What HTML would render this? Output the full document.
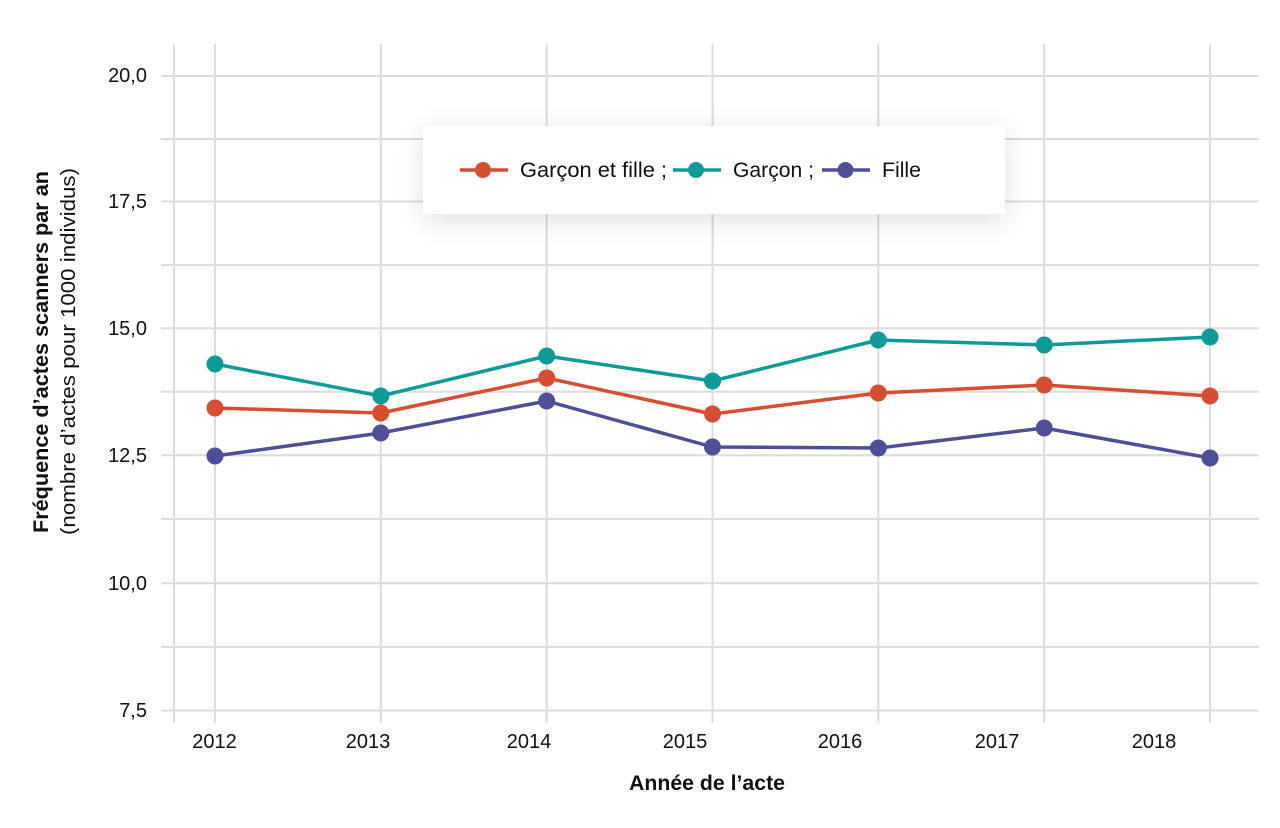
<!DOCTYPE html>
<html>
<head>
<meta charset="utf-8">
<style>
  html, body { margin:0; padding:0; background:#fff; }
  body { width:1280px; height:828px; position:relative; overflow:hidden; font-family:"Liberation Sans", sans-serif; }
  svg { position:absolute; left:0; top:0; }
  .legend { position:absolute; left:423px; top:126px; width:582px; height:88px; background:#fff;
            box-shadow: 0 6px 26px rgba(0,0,0,0.13); }
</style>
</head>
<body>
<svg width="1280" height="828" viewBox="0 0 1280 828" xmlns="http://www.w3.org/2000/svg">
  <g stroke="#dcdcdc" stroke-width="2" fill="none">
    <line x1="161" y1="76" x2="1259" y2="76"/>
    <line x1="161" y1="139" x2="1259" y2="139"/>
    <line x1="161" y1="201.5" x2="1259" y2="201.5"/>
    <line x1="161" y1="265" x2="1259" y2="265"/>
    <line x1="161" y1="328.3" x2="1259" y2="328.3"/>
    <line x1="161" y1="391.7" x2="1259" y2="391.7"/>
    <line x1="161" y1="455.3" x2="1259" y2="455.3"/>
    <line x1="161" y1="519" x2="1259" y2="519"/>
    <line x1="161" y1="583.3" x2="1259" y2="583.3"/>
    <line x1="161" y1="647" x2="1259" y2="647"/>
    <line x1="161" y1="710.5" x2="1259" y2="710.5"/>
    <line x1="174" y1="44" x2="174" y2="723"/>
    <line x1="215" y1="44" x2="215" y2="723"/>
    <line x1="380.8" y1="44" x2="380.8" y2="723"/>
    <line x1="546.7" y1="44" x2="546.7" y2="723"/>
    <line x1="712.5" y1="44" x2="712.5" y2="723"/>
    <line x1="878.3" y1="44" x2="878.3" y2="723"/>
    <line x1="1044.2" y1="44" x2="1044.2" y2="723"/>
    <line x1="1210" y1="44" x2="1210" y2="723"/>
  </g>

  <g font-family="Liberation Sans, sans-serif" font-size="20" fill="#111" text-anchor="end">
    <text x="147" y="82">20,0</text>
    <text x="147" y="208">17,5</text>
    <text x="147" y="335">15,0</text>
    <text x="147" y="462">12,5</text>
    <text x="147" y="590">10,0</text>
    <text x="147" y="717">7,5</text>
  </g>

  <g font-family="Liberation Sans, sans-serif" font-size="20" fill="#111" text-anchor="middle">
    <text x="214.5" y="748">2012</text>
    <text x="368" y="748">2013</text>
    <text x="529" y="748">2014</text>
    <text x="685" y="748">2015</text>
    <text x="840" y="748">2016</text>
    <text x="997" y="748">2017</text>
    <text x="1154" y="748">2018</text>
  </g>

  <text x="629" y="790" font-family="Liberation Sans, sans-serif" font-size="21" font-weight="bold" fill="#111" textLength="156" lengthAdjust="spacingAndGlyphs">Année de l’acte</text>

  <text transform="translate(48,533) rotate(-90)" font-family="Liberation Sans, sans-serif" font-size="21" font-weight="bold" fill="#111" textLength="362" lengthAdjust="spacingAndGlyphs">Fréquence d’actes scanners par an</text>
  <text transform="translate(75,535) rotate(-90)" font-family="Liberation Sans, sans-serif" font-size="20" fill="#111" textLength="367" lengthAdjust="spacingAndGlyphs">(nombre d’actes pour 1000 individus)</text>

  <g>
    <polyline fill="none" stroke="#0e9b97" stroke-width="3.5" stroke-linejoin="round"
      points="215,364 380.8,396 546.7,356 712.5,381 878.3,340 1044.2,345 1210,337"/>
    <g fill="#0e9b97">
      <circle cx="215" cy="364" r="8.5"/>
      <circle cx="380.8" cy="396" r="8.5"/>
      <circle cx="546.7" cy="356" r="8.5"/>
      <circle cx="712.5" cy="381" r="8.5"/>
      <circle cx="878.3" cy="340" r="8.5"/>
      <circle cx="1044.2" cy="345" r="8.5"/>
      <circle cx="1210" cy="337" r="8.5"/>
    </g>
  </g>
  <g>
    <polyline fill="none" stroke="#d64d31" stroke-width="3.5" stroke-linejoin="round"
      points="215,408 380.8,413 546.7,378 712.5,414 878.3,393 1044.2,385 1210,396"/>
    <g fill="#d64d31">
      <circle cx="215" cy="408" r="8.5"/>
      <circle cx="380.8" cy="413" r="8.5"/>
      <circle cx="546.7" cy="378" r="8.5"/>
      <circle cx="712.5" cy="414" r="8.5"/>
      <circle cx="878.3" cy="393" r="8.5"/>
      <circle cx="1044.2" cy="385" r="8.5"/>
      <circle cx="1210" cy="396" r="8.5"/>
    </g>
  </g>
  <g>
    <polyline fill="none" stroke="#4f4e99" stroke-width="3.5" stroke-linejoin="round"
      points="215,456 380.8,433 546.7,401 712.5,447 878.3,448 1044.2,428 1210,458"/>
    <g fill="#4f4e99">
      <circle cx="215" cy="456" r="8.5"/>
      <circle cx="380.8" cy="433" r="8.5"/>
      <circle cx="546.7" cy="401" r="8.5"/>
      <circle cx="712.5" cy="447" r="8.5"/>
      <circle cx="878.3" cy="448" r="8.5"/>
      <circle cx="1044.2" cy="428" r="8.5"/>
      <circle cx="1210" cy="458" r="8.5"/>
    </g>
  </g>
</svg>

<div class="legend"></div>

<svg width="1280" height="828" viewBox="0 0 1280 828" xmlns="http://www.w3.org/2000/svg">
  <g stroke-width="3.5">
    <line x1="460" y1="170" x2="508" y2="170" stroke="#d64d31"/>
    <circle cx="483" cy="170" r="8" fill="#d64d31" stroke="none"/>
    <line x1="673" y1="170" x2="721" y2="170" stroke="#0e9b97"/>
    <circle cx="696" cy="170" r="8" fill="#0e9b97" stroke="none"/>
    <line x1="822" y1="170" x2="870" y2="170" stroke="#4f4e99"/>
    <circle cx="845.5" cy="170" r="8" fill="#4f4e99" stroke="none"/>
  </g>
  <g font-family="Liberation Sans, sans-serif" font-size="21" fill="#111">
    <text x="520" y="177" textLength="147" lengthAdjust="spacingAndGlyphs">Garçon et fille ;</text>
    <text x="733" y="177" textLength="81" lengthAdjust="spacingAndGlyphs">Garçon ;</text>
    <text x="882" y="177" textLength="39" lengthAdjust="spacingAndGlyphs">Fille</text>
  </g>
</svg>
</body>
</html>
